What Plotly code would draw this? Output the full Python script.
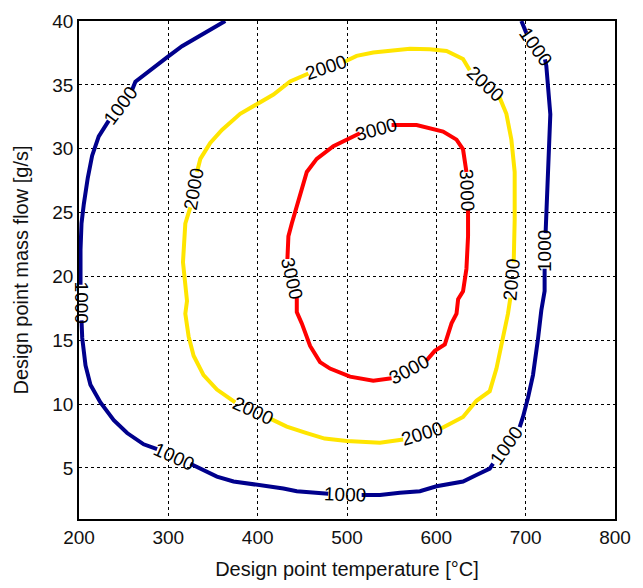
import plotly.graph_objects as go

# ---- data (temperature [°C], mass flow [g/s]) ----
c1000_x = [363.7, 343.2, 315.3, 298.5, 276.2, 263.1, 259.4, 246.4, 233.3, 222.1, 214.7, 209.8,
           205.4, 202.8, 201.7, 201.7, 202.2, 202.8, 203.6, 207.3, 212.8, 224.0, 238.9, 253.9,
           272.4, 287.4, 305.9, 324.6, 335.8, 354.4, 373.0, 399.1, 428.8, 443.8, 466.1, 479.1,
           497.8, 516.4, 536.9, 559.2, 581.6, 600.2, 611.4, 629.9, 644.9, 659.8, 663.5, 678.4,
           693.3, 697.0, 702.6, 708.2, 713.7, 717.5, 721.2, 721.2, 721.8, 722.3, 724.9, 726.8,
           727.6, 723.1, 721.6, 711.2, 700.8, 695.2]
c1000_y = [40.0, 39.17, 38.03, 37.15, 36.0, 35.25, 34.6, 33.42, 32.2, 30.96, 29.45, 27.7,
           25.66, 24.14, 22.1, 19.35, 17.95, 16.56, 15.18, 13.03, 11.52, 10.13, 8.74, 7.73,
           6.85, 6.47, 5.90, 5.33, 4.95, 4.32, 3.94, 3.69, 3.39, 3.18, 3.06, 2.98,
           2.93, 2.88, 2.88, 3.06, 3.18, 3.56, 3.69, 3.94, 4.45, 4.95, 5.33, 6.78,
           8.2, 8.99, 10.5, 12.27, 15.05, 17.33, 18.84, 20.6, 22.0, 23.39, 27.7, 30.2,
           32.7, 36.5, 37.0, 38.03, 39.05, 40.0]

c2000_x = [496.0, 476.3, 456.8, 436.3, 417.7, 399.1, 380.4, 360.0, 346.9, 335.8, 332.1, 328.3,
           324.6, 319.0, 316.4, 319.0, 320.9, 319.0, 322.7, 328.3, 339.4, 354.4, 374.9, 394.4,
           414.0, 432.6, 454.9, 475.0, 499.7, 536.9, 562.9, 584.4, 605.8, 629.9, 644.9, 659.8,
           667.3, 674.6, 680.2, 682.9, 684.7, 686.6, 687.7, 687.7, 684.0, 678.4, 670.9, 654.2,
           637.4, 629.9, 611.4, 592.7, 570.4, 548.0, 529.4, 510.8, 496.0]
c2000_y = [36.77, 36.33, 35.89, 35.26, 34.24, 33.48, 32.73, 31.47, 30.45, 29.2, 28.18, 26.8,
           25.41, 24.14, 21.11, 19.35, 18.08, 17.08, 15.3, 13.79, 12.27, 11.14, 10.13, 9.5,
           8.86, 8.24, 7.73, 7.3, 7.1, 6.97, 7.23, 7.67, 8.1, 8.99, 10.26, 11.01,
           12.78, 15.05, 17.08, 18.33, 19.73, 21.1, 24.4, 28.18, 30.71, 32.73, 34.0, 35.07,
           36.14, 37.02, 37.65, 37.78, 37.83, 37.7, 37.53, 37.27, 36.77]

c3000_x = [514.5, 532.2, 549.9, 577.9, 607.6, 622.6, 629.9, 633.7, 634.6, 635.5, 635.5, 633.7,
           629.9, 624.4, 622.6, 617.0, 609.5, 598.3, 589.0, 569.5, 549.9, 529.4, 503.4, 481.0,
           469.8, 458.7, 449.4, 443.8, 443.8, 438.5, 433.3, 434.4, 438.2, 443.8, 449.4, 455.0,
           466.1, 481.0, 484.7, 514.5]
c3000_y = [31.21, 31.53, 31.85, 31.85, 31.34, 30.71, 29.95, 28.18, 26.74, 25.28, 23.14, 20.6,
           18.84, 18.21, 17.08, 16.32, 14.67, 14.17, 13.41, 12.72, 12.02, 11.82, 12.15, 12.78,
           13.29, 14.55, 16.32, 17.2, 18.33, 19.85, 21.36, 23.14, 24.14, 25.41, 26.67, 28.18,
           29.2, 29.95, 30.2, 31.21]

# contour labels (level, x, y) in data coordinates
label_level = [1000, 1000, 1000, 1000, 1000, 1000, 1000,
               2000, 2000, 2000, 2000, 2000, 2000,
               3000, 3000, 3000, 3000]
label_x = [246.4, 202.2, 305.9, 497.8, 678.4, 721.8, 711.2,
           476.3, 328.3, 394.4, 584.4, 684.7, 654.2,
           532.2, 634.6, 569.5, 438.5]
label_y = [33.42, 17.95, 5.90, 2.93, 6.78, 22.0, 38.03,
           36.33, 26.8, 9.5, 7.67, 19.73, 35.07,
           31.53, 26.74, 12.72, 19.85]
label_angle = [-53, 90, 24, 2, -55, -90, 55,
               -18, -80, 25, -17, -85, 43,
               -15, 88, -28, 77]

x_ticks = [200, 300, 400, 500, 600, 700, 800]
y_ticks = [5, 10, 15, 20, 25, 30, 35, 40]

colors = {1000: "#00008C", 2000: "#FFE500", 3000: "#FF0000"}
FONT = "Liberation Sans, Arial"

fig = go.Figure()
for lev, xs, ys in [(1000, c1000_x, c1000_y), (2000, c2000_x, c2000_y), (3000, c3000_x, c3000_y)]:
    # split the line at label positions to leave gaps
    lx = [label_x[i] for i in range(len(label_level)) if label_level[i] == lev]
    ly = [label_y[i] for i in range(len(label_level)) if label_level[i] == lev]
    px, py = [], []
    for x, y in zip(xs, ys):
        if any(abs(x - a) < 0.01 and abs(y - b) < 0.01 for a, b in zip(lx, ly)):
            px.append(None)
            py.append(None)
        else:
            px.append(x)
            py.append(y)
    fig.add_trace(go.Scatter(x=px, y=py, mode="lines", connectgaps=False,
                             line=dict(color=colors[lev], width=4),
                             hoverinfo="skip", showlegend=False))

for lev, x, y, a in zip(label_level, label_x, label_y, label_angle):
    fig.add_annotation(x=x, y=y, text=str(lev), showarrow=False, textangle=a,
                       font=dict(family=FONT, size=19, color="black"),
                       xanchor="center", yanchor="middle")

grid = dict(showgrid=True, gridcolor="black", gridwidth=1, griddash="3px,3px",
            showline=True, linecolor="black", linewidth=1.5, mirror=True,
            ticks="", zeroline=False,
            tickfont=dict(family=FONT, size=19, color="#111"))

fig.update_xaxes(range=[200, 800], tickvals=x_ticks,
                 title=dict(text="Design point temperature [°C]", standoff=15,
                            font=dict(family=FONT, size=20, color="#111")),
                 **grid)
fig.update_yaxes(range=[1, 40], tickvals=y_ticks,
                 title=dict(text="Design point mass flow [g/s]", standoff=18,
                            font=dict(family=FONT, size=20, color="#111")),
                 **grid)

fig.update_layout(width=643, height=588, plot_bgcolor="white", paper_bgcolor="white",
                  margin=dict(l=79, r=28, t=11, b=65))

fig.write_html("out.html")
